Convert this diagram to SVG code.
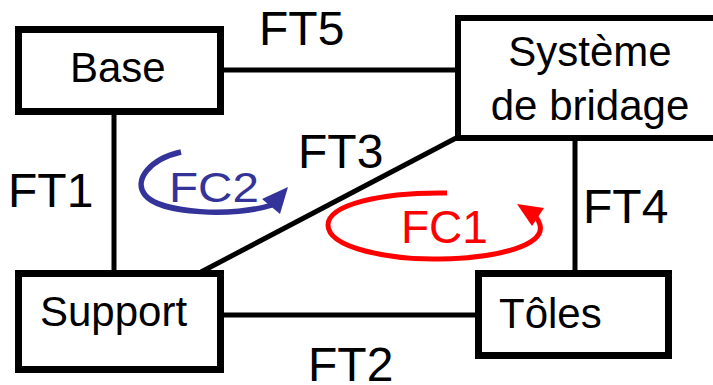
<svg xmlns="http://www.w3.org/2000/svg" width="713" height="385" viewBox="0 0 713 385">
<style>
.box{fill:#fff;stroke:#000;stroke-width:7}
.lbl{font-family:"Liberation Sans",Arial,sans-serif;font-size:42px;fill:#000}
.ft{font-family:"Liberation Sans",Arial,sans-serif;font-size:48px;fill:#000}
.con{stroke:#000;stroke-width:5;fill:none}
</style>
<rect width="713" height="385" fill="#fff"/>
<g id="connectors">
<line class="con" x1="224" y1="70" x2="456" y2="70"/>
<line class="con" x1="114" y1="112" x2="114" y2="272"/>
<line class="con" x1="222" y1="315" x2="477" y2="315"/>
<line class="con" x1="575" y1="136" x2="575" y2="272"/>
<line class="con" x1="201" y1="272" x2="458" y2="137"/>
</g>
<g id="labels-ft">
<text class="ft" x="259" y="45">FT5</text>
<text class="ft" x="8" y="207">FT1</text>
<text class="ft" x="298" y="168">FT3</text>
<text class="ft" x="583" y="223">FT4</text>
<text class="ft" x="308" y="381">FT2</text>
</g>
<g id="base">
<rect class="box" x="18.5" y="29.5" width="202" height="82"/>
<text class="lbl" x="70" y="82">Base</text>
</g>
<g id="systeme">
<rect class="box" style="stroke-width:6" x="458" y="18" width="270" height="120"/>
<text class="lbl" x="590" y="66" text-anchor="middle">Système</text>
<text class="lbl" x="590" y="120" text-anchor="middle">de bridage</text>
</g>
<g id="support">
<rect class="box" x="18.5" y="273.5" width="202" height="96"/>
<text class="lbl" x="40" y="326">Support</text>
</g>
<g id="toles">
<rect class="box" x="478.5" y="273.5" width="190" height="82"/>
<text class="lbl" x="499" y="328">Tôles</text>
</g>
<g id="fc2">
<path d="M181,152 C150,159 133,180 145,195 C160,214 235,217 272,205" fill="none" stroke="#33339a" stroke-width="5.5"/>
<polygon points="288,187 262,199 280,214" fill="#33339a"/>
<text x="169" y="202" font-family="Liberation Sans, Arial, sans-serif" font-size="43" fill="#33339a" textLength="90" lengthAdjust="spacingAndGlyphs">FC2</text>
</g>
<g id="fc1">
<path d="M447,193 C380,192 328,205 328,225 C328,248 390,260 440,259 C500,258 545,245 540,225 C538,218 534,214 530,212" fill="none" stroke="#ff0000" stroke-width="5"/>
<polygon points="517,204 544,208 532,226" fill="#ff0000"/>
<text x="401" y="243" font-family="Liberation Sans, Arial, sans-serif" font-size="46" fill="#ff0000">FC1</text>
</g>
</svg>
